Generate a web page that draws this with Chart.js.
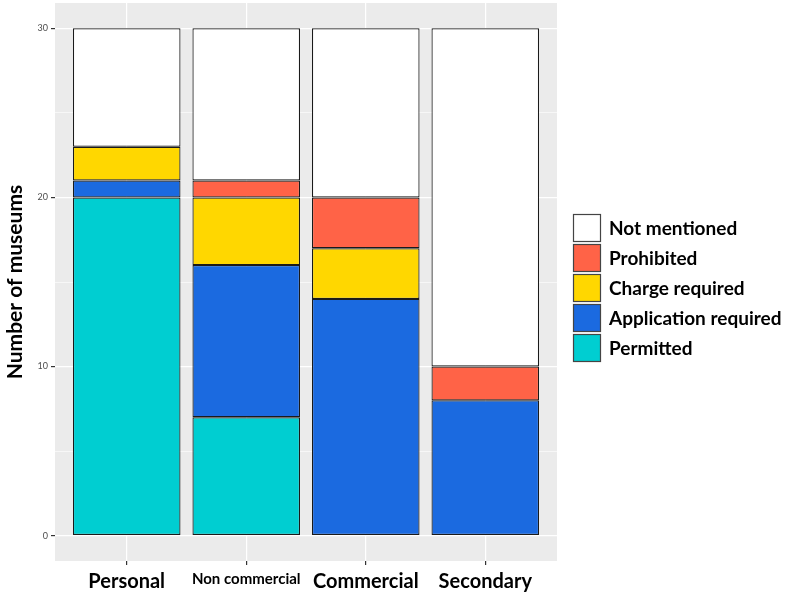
<!DOCTYPE html>
<html>
<head>
<meta charset="utf-8">
<script src="https://cdn.jsdelivr.net/npm/chart.js@4"></script>
<style>
  html, body { margin: 0; padding: 0; background: #fff; }
  #wrap { width: 803px; height: 593px; }
</style>
</head>
<body>
<div id="wrap"><canvas id="chart" width="803" height="593"></canvas></div>
<script>
// categories and counts
const categories = ["Personal", "Non commercial", "Commercial", "Secondary"];
const permitted = [20, 7, null, null];
const applicationRequired = [1, 9, 14, 8];
const chargeRequired = [2, 4, 3, null];
const prohibited = [null, 1, 3, 2];
const notMentioned = [7, 9, 10, 20];
const yTicks = [0, 5, 10, 15, 20, 25, 30];

const FONT = "Lato, 'Open Sans', sans-serif";

function points(values) {
    return values.map((v, i) => ({ x: i, y: v }));
}

function series(label, values, color) {
    return {
        label: label,
        data: points(values),
        backgroundColor: color,
        borderColor: "#1A1A1A",
        borderWidth: 1.2,
        borderSkipped: false,
        inflateAmount: 0,
        barPercentage: 0.9,
        categoryPercentage: 1
    };
}

// grey ggplot panel behind the grid
const panelBg = {
    id: "panelBg",
    beforeDraw(chart) {
        const a = chart.chartArea;
        const ctx = chart.ctx;
        ctx.save();
        ctx.fillStyle = "#EBEBEB";
        ctx.fillRect(a.left, a.top, a.right - a.left, a.bottom - a.top);
        ctx.restore();
    }
};

// legend on the right, top item = top of stack
const sideLegend = {
    id: "sideLegend",
    afterDraw(chart) {
        const ctx = chart.ctx;
        const sets = chart.data.datasets.slice().reverse();
        const x0 = 573, y0 = 214, size = 28, step = 30;
        ctx.save();
        ctx.font = "bold 19px " + FONT;
        ctx.textBaseline = "middle";
        ctx.textAlign = "left";
        sets.forEach((ds, i) => {
            const y = y0 + i * step;
            ctx.fillStyle = ds.backgroundColor;
            ctx.fillRect(x0, y, size, size);
            ctx.strokeStyle = "#444444";
            ctx.lineWidth = 1.2;
            ctx.strokeRect(x0 + 0.5, y + 0.5, size - 1, size - 1);
            ctx.fillStyle = "#000000";
            ctx.fillText(ds.label, x0 + 36, y + size / 2 + 1);
        });
        ctx.restore();
    }
};

new Chart(document.getElementById("chart"), {
    type: "bar",
    data: {
        datasets: [
            series("Permitted", permitted, "#00CED1"),
            series("Application required", applicationRequired, "#1B6AE0"),
            series("Charge required", chargeRequired, "#FFD700"),
            series("Prohibited", prohibited, "#FF6347"),
            series("Not mentioned", notMentioned, "#FFFFFF")
        ]
    },
    options: {
        responsive: false,
        animation: false,
        layout: { padding: { left: 0, top: 3, right: 246, bottom: 0 } },
        plugins: {
            legend: { display: false },
            tooltip: { enabled: false }
        },
        scales: {
            x: {
                type: "linear",
                stacked: true,
                offset: false,
                min: -0.6,
                max: 3.6,
                afterBuildTicks: s => { s.ticks = categories.map((c, i) => ({ value: i })); },
                afterFit: s => { s.height = 32; s.paddingLeft = 0; s.paddingRight = 0; },
                border: { display: false },
                grid: { offset: false, color: "#FFFFFF", lineWidth: 1.2, tickColor: "#333333", tickLength: 4 },
                ticks: {
                    padding: 5,
                    color: "#000000",
                    maxRotation: 0,
                    autoSkip: false,
                    callback: v => categories[v],
                    font: c => ({ family: FONT, weight: "bold", size: c.index === 1 ? 15 : 20 })
                }
            },
            y: {
                stacked: true,
                min: -1.5,
                max: 31.5,
                afterBuildTicks: s => { s.ticks = yTicks.map(v => ({ value: v })); },
                afterFit: s => { s.width = 55; s.paddingTop = 0; s.paddingBottom = 0; },
                border: { display: false },
                grid: {
                    color: "#FFFFFF",
                    lineWidth: c => (c.tick && c.tick.value % 10 === 0 ? 1.2 : 0.6),
                    tickColor: c => (c.tick && c.tick.value % 10 === 0 ? "#333333" : "rgba(0,0,0,0)"),
                    tickLength: 4
                },
                ticks: {
                    padding: 3,
                    color: "#4D4D4D",
                    font: { family: FONT, size: 9 },
                    callback: v => (v % 10 === 0 ? String(v) : "")
                },
                title: {
                    display: true,
                    text: "Number of museums",
                    color: "#000000",
                    padding: { top: 3, bottom: 0 },
                    font: { family: FONT, weight: "bold", size: 21 }
                }
            }
        }
    },
    plugins: [panelBg, sideLegend]
});
</script>
</body>
</html>
